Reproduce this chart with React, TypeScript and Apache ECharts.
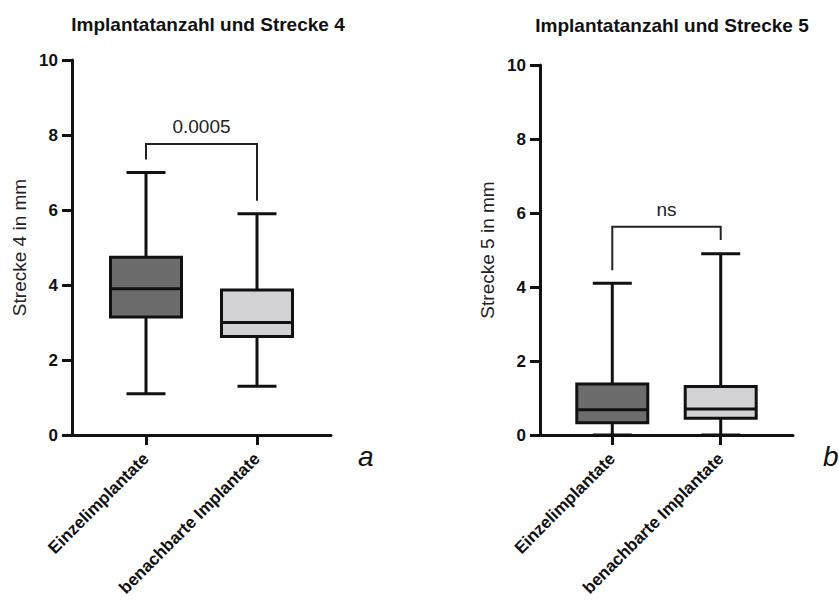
import React, { useEffect, useRef } from 'react';
import * as echarts from 'echarts';

// Groups compared in both panels
const categories = ['Einzelimplantate', 'benachbarte Implantate'];

// Box statistics per group: [min, Q1, median, Q3, max] in mm
const strecke4Einzel = [1.1, 3.15, 3.9, 4.74, 7.0];
const strecke4Benachbart = [1.3, 2.63, 3.0, 3.87, 5.9];
const strecke5Einzel = [0, 0.33, 0.68, 1.38, 4.1];
const strecke5Benachbart = [0, 0.45, 0.7, 1.31, 4.9];

// Significance brackets: [left leg end, bar height, right leg end]
const bracket4 = [7.35, 7.76, 6.25];
const bracket5 = [4.45, 5.63, 5.27];
const pLabel4 = '0.0005';
const pLabel5 = 'ns';

const panelTitles = ['Implantatanzahl und Strecke 4', 'Implantatanzahl und Strecke 5'];
const axisNames = ['Strecke 4 in mm', 'Strecke 5 in mm'];
const panelLetters = ['a', 'b'];

const FONT = "'Liberation Sans', Arial, Helvetica, sans-serif";
const INK = '#111111';
const boxFills = ['#6c6c6c', '#d2d2d4'];

// Category slots: two spacers before, two between and two after the groups
const slots = ['s0', 's1', categories[0], 's2', 's3', categories[1], 's4', 's5'];
const isGroup = (_i: number, v: string) => categories.includes(v);
const slotOf = (c: string) => slots.indexOf(c);

const renderBox = (params: any, api: any) => {
  const x = api.value(0);
  const vals = [1, 2, 3, 4, 5].map((d) => api.value(d));
  const [pMin, pQ1, pMed, pQ3, pMax] = vals.map((v) => api.coord([x, v]));
  const cx = pMin[0];
  const half = 35.5;
  const cap = 19.5;
  const line = (x1: number, y1: number, x2: number, y2: number) => ({
    type: 'line',
    shape: { x1, y1, x2, y2 },
    style: { stroke: INK, lineWidth: 3 },
  });
  return {
    type: 'group',
    children: [
      line(cx, pMin[1], cx, pMax[1]),
      line(cx - cap, pMax[1], cx + cap, pMax[1]),
      line(cx - cap, pMin[1], cx + cap, pMin[1]),
      {
        type: 'rect',
        shape: { x: cx - half, y: pQ3[1], width: half * 2, height: pQ1[1] - pQ3[1] },
        style: { fill: boxFills[params.dataIndex], stroke: INK, lineWidth: 3 },
      },
      line(cx - half, pMed[1], cx + half, pMed[1]),
    ],
  };
};

const makeBracketRenderer = (label: string) => (_params: any, api: any) => {
  const i1 = api.value(0);
  const i2 = api.value(1);
  const pL = api.coord([i1, api.value(2)]);
  const pT1 = api.coord([i1, api.value(3)]);
  const pT2 = api.coord([i2, api.value(3)]);
  const pR = api.coord([i2, api.value(4)]);
  return {
    type: 'group',
    children: [
      {
        type: 'polyline',
        shape: { points: [pL, pT1, pT2, pR] },
        style: { stroke: '#222', lineWidth: 2, fill: null },
      },
      {
        type: 'text',
        x: (pT1[0] + pT2[0]) / 2,
        y: pT1[1] - 8,
        style: {
          text: label,
          fontFamily: FONT,
          fontSize: 19,
          fill: '#222',
          align: 'center',
          verticalAlign: 'bottom',
        },
      },
    ],
  };
};

const grids = [
  { left: 72, top: 60, width: 259, height: 375, containLabel: false, outerBoundsMode: 'none' },
  { left: 540, top: 65, width: 253, height: 370, containLabel: false, outerBoundsMode: 'none' },
];

const App: React.FC = () => {
  const ref = useRef<HTMLDivElement>(null);

  useEffect(() => {
    if (!ref.current) return;
    const chart = echarts.init(ref.current, null, { renderer: 'svg' });

    const xAxisFor = (gridIndex: number) => ({
      type: 'category',
      gridIndex,
      data: slots,
      boundaryGap: false,
      axisLine: { lineStyle: { color: INK, width: 3 } },
      axisTick: { show: true, length: 10, interval: isGroup, lineStyle: { color: INK, width: 3 } },
      axisLabel: {
        interval: isGroup,
        rotate: 45,
        margin: 21,
        color: INK,
        fontFamily: FONT,
        fontSize: 17,
        fontWeight: 'bold',
      },
      splitLine: { show: false },
    });

    const yAxisFor = (gridIndex: number) => ({
      type: 'value',
      gridIndex,
      min: 0,
      max: 10,
      interval: 2,
      name: axisNames[gridIndex],
      nameLocation: 'middle',
      nameGap: 43,
      nameTextStyle: { fontFamily: FONT, fontSize: 19, color: '#222' },
      axisLine: { show: true, lineStyle: { color: INK, width: 3 } },
      axisTick: { show: true, length: 10, lineStyle: { color: INK, width: 3 } },
      axisLabel: {
        margin: 14,
        color: INK,
        fontFamily: FONT,
        fontSize: 17,
        fontWeight: 'bold',
      },
      splitLine: { show: false },
    });

    const boxSeries = (gridIndex: number, a: number[], b: number[]) => ({
      type: 'custom',
      xAxisIndex: gridIndex,
      yAxisIndex: gridIndex,
      renderItem: renderBox,
      encode: { x: 0, y: [1, 2, 3, 4, 5] },
      data: [
        [slotOf(categories[0]), ...a],
        [slotOf(categories[1]), ...b],
      ],
      silent: true,
    });

    const bracketSeries = (gridIndex: number, br: number[], label: string) => ({
      type: 'custom',
      xAxisIndex: gridIndex,
      yAxisIndex: gridIndex,
      renderItem: makeBracketRenderer(label),
      encode: { x: [0, 1], y: [2, 3, 4] },
      data: [[slotOf(categories[0]), slotOf(categories[1]), ...br]],
      silent: true,
    });

    const titleStyle = { fontFamily: FONT, fontSize: 19, fontWeight: 'bold', color: INK };

    chart.setOption({
      animation: false,
      backgroundColor: '#ffffff',
      title: [
        { text: panelTitles[0], left: 203, top: 10, textAlign: 'center', textStyle: titleStyle },
        { text: panelTitles[1], left: 667, top: 11, textAlign: 'center', textStyle: titleStyle },
      ],
      grid: grids,
      xAxis: [xAxisFor(0), xAxisFor(1)],
      yAxis: [yAxisFor(0), yAxisFor(1)],
      series: [
        boxSeries(0, strecke4Einzel, strecke4Benachbart),
        bracketSeries(0, bracket4, pLabel4),
        boxSeries(1, strecke5Einzel, strecke5Benachbart),
        bracketSeries(1, bracket5, pLabel5),
      ],
      graphic: [
        {
          type: 'text',
          left: 358,
          top: 442,
          style: {
            text: panelLetters[0],
            fontFamily: FONT,
            fontSize: 28,
            fontStyle: 'italic',
            fill: INK,
          },
        },
        {
          type: 'text',
          left: 823,
          top: 442,
          style: {
            text: panelLetters[1],
            fontFamily: FONT,
            fontSize: 28,
            fontStyle: 'italic',
            fill: INK,
          },
        },
      ],
    });

    return () => chart.dispose();
  }, []);

  return (
    <div
      ref={ref}
      style={{ position: 'absolute', left: 0, top: 0, width: 839, height: 604, background: '#fff' }}
    />
  );
};

export default App;
